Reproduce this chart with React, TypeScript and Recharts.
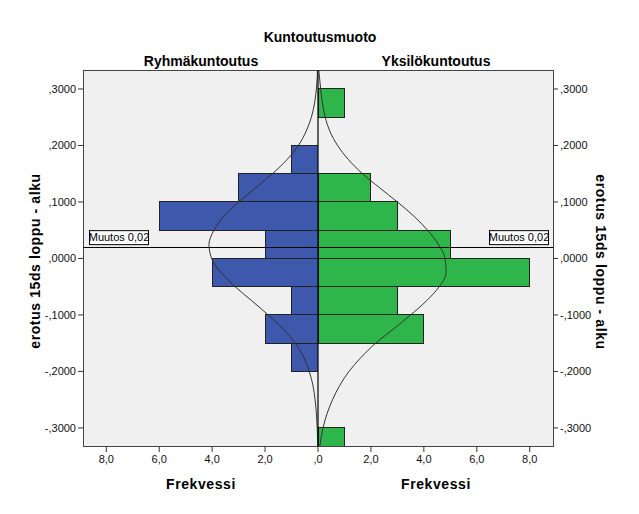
import React from 'react';
import { ComposedChart, XAxis, YAxis, Line, ReferenceArea, ReferenceLine } from 'recharts';

// histogram bins (upper edge of each 0.05 wide bin)
const BIN_TOPS = [0.3, 0.25, 0.2, 0.15, 0.1, 0.05, 0, -0.05, -0.1, -0.15, -0.2, -0.25, -0.3];
const RYHMA = [0, 0, 1, 3, 6, 2, 4, 1, 2, 1, 0, 0, 0];
const YKSILO = [1, 0, 0, 2, 3, 5, 8, 3, 4, 0, 0, 0, 1];
const BIN_WIDTH = 0.05;

// normal curve
const CURVE_Y = [0.3336, 0.3, 0.275, 0.25, 0.225, 0.2, 0.175, 0.15, 0.125, 0.1, 0.075, 0.05, 0.025, 0, -0.025, -0.05, -0.075, -0.1, -0.125, -0.15, -0.175, -0.2, -0.225, -0.25, -0.275, -0.3, -0.332];
const RYHMA_CURVE = [0.02, 0.06, 0.13, 0.25, 0.45, 0.74, 1.17, 1.72, 2.35, 3.0, 3.55, 3.93, 4.12, 4.02, 3.66, 3.13, 2.5, 1.88, 1.31, 0.86, 0.54, 0.33, 0.19, 0.11, 0.06, 0.03, 0.01];
const YKSILO_CURVE = [0.03, 0.1, 0.17, 0.27, 0.45, 0.74, 1.15, 1.68, 2.33, 3.0, 3.62, 4.14, 4.55, 4.8, 4.84, 4.58, 4.1, 3.5, 2.85, 2.18, 1.63, 1.17, 0.82, 0.55, 0.34, 0.19, 0.07];

const Y_TICKS = [0.3, 0.2, 0.1, 0, -0.1, -0.2, -0.3];
const X_TICKS = [0, 2, 4, 6, 8];
const MUUTOS = 0.02;

const Y_DOMAIN: [number, number] = [-0.332, 0.3336];
const X_MAX = 8.88;

const FONT = '"Liberation Sans", Arial, sans-serif';
const BLUE = '#3e58ab';
const GREEN = '#2fb64a';

const fmtY = (v: number) => (v < 0 ? '-' : '') + Math.abs(v).toFixed(4).replace(/^0/, '').replace('.', ',');
const fmtX = (v: number) => (v === 0 ? ',0' : v.toFixed(1).replace('.', ','));

const curveData = CURVE_Y.map((y, i) => ({ y, ryhma: RYHMA_CURVE[i], yksilo: YKSILO_CURVE[i] }));

const MuutosLabel = ({ viewBox, side }: any) => {
  if (!viewBox) return null;
  const w = 59;
  const h = 14;
  const bx = side === 'left' ? viewBox.x + 6 : viewBox.x + viewBox.width - 5 - w;
  const by = viewBox.y - 17;
  return (
    <g>
      <rect x={bx + 0.5} y={by + 0.5} width={w} height={h} fill="#fff" stroke="#000" strokeWidth={1} />
      <text x={bx + w / 2 + 0.5} y={by + 11} textAnchor="middle" fontSize={11} fontFamily={FONT} fill="#000">
        Muutos 0,02
      </text>
    </g>
  );
};

const Panel = ({ side }: { side: 'left' | 'right' }) => {
  const isLeft = side === 'left';
  const values = isLeft ? RYHMA : YKSILO;
  const color = isLeft ? BLUE : GREEN;
  return (
    <ComposedChart
      width={isLeft ? 318 : 339}
      height={514}
      layout="vertical"
      data={curveData}
      margin={{ top: 70, right: 0, bottom: 0, left: isLeft ? 0 : 18 }}
    >
      <XAxis
        type="number"
        domain={[0, X_MAX]}
        reversed={isLeft}
        ticks={isLeft ? X_TICKS.slice(1) : X_TICKS}
        tickFormatter={fmtX}
        interval={0}
        allowDataOverflow
        height={68}
        axisLine={false}
        tickSize={6}
        tickMargin={3}
        tickLine={{ stroke: '#333' }}
        tick={{ fontSize: 11, fontFamily: FONT, fill: '#111' }}
      />
      <YAxis
        type="number"
        dataKey="y"
        orientation={isLeft ? 'left' : 'right'}
        width={isLeft ? 83 : 86}
        domain={Y_DOMAIN}
        reversed
        ticks={Y_TICKS}
        tickFormatter={fmtY}
        interval={0}
        allowDataOverflow
        axisLine={false}
        tickSize={5}
        tickMargin={2}
        tickLine={{ stroke: '#333' }}
        tick={{ fontSize: 11, fontFamily: FONT, fill: '#111' }}
      />
      {BIN_TOPS.map((top, i) =>
        values[i] > 0 ? (
          <ReferenceArea
            key={`bin-${i}`}
            x1={0}
            x2={values[i]}
            y1={top - BIN_WIDTH}
            y2={top}
            fill={color}
            fillOpacity={1}
            stroke="#222"
            strokeWidth={1}
            strokeOpacity={1}
            shapeRendering="crispEdges"
            ifOverflow="hidden"
          />
        ) : null
      )}
      <ReferenceLine
        y={MUUTOS}
        stroke="#000"
        strokeWidth={1}
        shapeRendering="crispEdges"
        ifOverflow="visible"
        label={(props: any) => <MuutosLabel {...props} side={side} />}
      />
      {!isLeft && <ReferenceLine x={0} stroke="#000" strokeWidth={1.2} ifOverflow="visible" />}
      <Line
        dataKey={isLeft ? 'ryhma' : 'yksilo'}
        type="monotone"
        stroke="#333"
        strokeWidth={1}
        dot={false}
        activeDot={false}
        isAnimationActive={false}
      />
    </ComposedChart>
  );
};

const textStyle: React.CSSProperties = {
  position: 'absolute',
  fontFamily: FONT,
  fontWeight: 'bold',
  fontSize: 14,
  color: '#000',
  whiteSpace: 'nowrap',
  transform: 'translate(-50%, -50%)',
};

export default function App() {
  return (
    <div style={{ position: 'absolute', left: 0, top: 0, width: 639, height: 514, background: '#fff', overflow: 'hidden' }}>
      <div
        style={{
          position: 'absolute',
          left: 83,
          top: 70,
          width: 471,
          height: 377,
          boxSizing: 'border-box',
          background: '#f0f0f0',
          border: '1px solid #444',
        }}
      />
      <div style={{ position: 'absolute', left: 0, top: 0 }}>
        <Panel side="left" />
      </div>
      <div style={{ position: 'absolute', left: 300, top: 0 }}>
        <Panel side="right" />
      </div>
      <div style={{ ...textStyle, left: 320, top: 37 }}>Kuntoutusmuoto</div>
      <div style={{ ...textStyle, left: 201, top: 61 }}>Ryhmäkuntoutus</div>
      <div style={{ ...textStyle, left: 436, top: 61 }}>Yksilökuntoutus</div>
      <div style={{ ...textStyle, left: 201, top: 484, letterSpacing: 0.6 }}>Frekvessi</div>
      <div style={{ ...textStyle, left: 436, top: 484, letterSpacing: 0.6 }}>Frekvessi</div>
      <div style={{ ...textStyle, left: 35, top: 261, letterSpacing: 0.6, transform: 'translate(-50%, -50%) rotate(-90deg)' }}>
        erotus 15ds loppu - alku
      </div>
      <div style={{ ...textStyle, left: 601, top: 262, letterSpacing: 0.6, transform: 'translate(-50%, -50%) rotate(90deg)' }}>
        erotus 15ds loppu - alku
      </div>
    </div>
  );
}
